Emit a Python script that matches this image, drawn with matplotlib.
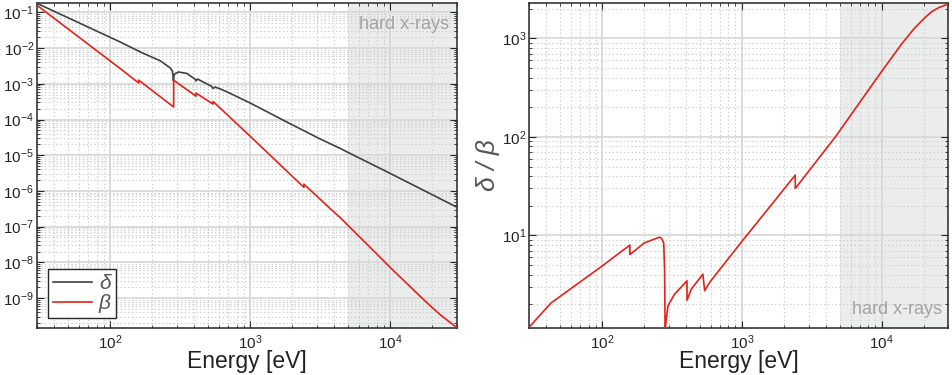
import matplotlib
matplotlib.use('Agg')
import matplotlib.pyplot as plt
from matplotlib.ticker import LogLocator, LogFormatterMathtext, NullFormatter, FixedLocator
import numpy as np

plt.rcParams['font.family'] = ['Liberation Sans', 'DejaVu Sans']
plt.rcParams['mathtext.fontset'] = 'custom'
plt.rcParams['mathtext.rm'] = 'Liberation Sans'
plt.rcParams['mathtext.it'] = 'Liberation Sans:italic'
plt.rcParams['axes.unicode_minus'] = False

# ---------------- data ----------------
energy_delta = [30, 118, 164, 228, 268, 278, 281, 283, 286, 291, 308, 353,
                405, 410, 420, 530, 543, 560, 611, 720, 1000, 1828, 3162,
                4400, 5180, 10000, 30000]
delta = [0.179, 1.48e-2, 7.8e-3, 4.4e-3, 2.8e-3, 2.3e-3, 1.7e-3, 1.22e-3,
         1.7e-3, 1.93e-3, 2.14e-3, 1.95e-3,
         1.34e-3, 1.2e-3, 1.36e-3, 8.5e-4, 7.4e-4, 8.1e-4, 7.2e-4, 5.4e-4,
         2.9e-4, 8.5e-5, 2.85e-5, 1.55e-5, 1.12e-5, 3.1e-6, 3.5e-7]

energy_beta = [30, 118, 160, 160, 284, 284, 410, 410, 543, 543, 1000,
               2420, 2420, 3728, 4400, 8950, 10000, 13150, 17300, 20000,
               23000, 26500, 30000]
beta = [0.158, 2.66e-3, 1.05e-3, 1.26e-3, 2.24e-4, 1.26e-3, 4.5e-4, 5.5e-4,
        2.7e-4, 3.2e-4, 3.4e-5, 1.26e-6, 1.55e-6, 3.2e-7, 1.78e-7, 1.12e-8,
        7.2e-9, 2.57e-9, 9.1e-10, 5.4e-10, 3.3e-10, 2.15e-10, 1.48e-10]

energy_ratio = [30, 43, 100, 158, 158, 200, 257, 266, 276, 280, 284, 285,
                296, 330, 405, 405, 434, 526, 542, 587, 1000, 1535, 2410,
                2410, 4665, 9950, 13960, 17000, 20400, 23000, 25500, 27500,
                30000]
ratio = [1.17, 2.06, 4.9, 8.0, 6.4, 8.4, 9.6, 9.4, 8.4, 4.5, 0.4, 1.25,
         1.94, 2.54, 3.47, 2.2, 2.85, 4.05, 2.75, 3.34, 8.7, 18.5, 41,
         30, 100, 457, 883, 1245, 1622, 1880, 2040, 2130, 2230]

hard_xray_range = [5000, 30000]
energy_limits = [30, 30000]
left_ylim = [1.48e-10, 0.179]
right_ylim = [1.16, 2265]
x_major = [1e2, 1e3, 1e4]
left_y_major = [1e-9, 1e-8, 1e-7, 1e-6, 1e-5, 1e-4, 1e-3, 1e-2, 1e-1]
right_y_major = [1e1, 1e2, 1e3]

# ---------------- styling ----------------
C_DELTA = '#404040'
C_BETA = '#e2231a'
SHADE = '#ebecec'
MAJ_GRID = '#d9d9d9'
MIN_GRID = '#cccccc'
SPINE = '#262626'

fig = plt.figure(figsize=(9.53, 3.75), dpi=100)
ax1 = fig.add_axes([0.0388, 0.1261, 0.4407, 0.865])
ax2 = fig.add_axes([0.5551, 0.1261, 0.4400, 0.865])


def style(ax, ymajor):
    ax.set_xscale('log')
    ax.set_yscale('log')
    ax.set_axisbelow(True)
    ax.xaxis.set_major_locator(FixedLocator(x_major))
    ax.yaxis.set_major_locator(FixedLocator(ymajor))
    for axis in (ax.xaxis, ax.yaxis):
        axis.set_minor_locator(LogLocator(base=10, subs=np.arange(2, 10), numticks=30))
        axis.set_major_formatter(LogFormatterMathtext())
        axis.set_minor_formatter(NullFormatter())
    ax.grid(True, which='major', color=MAJ_GRID, linewidth=1.3, linestyle='-')
    ax.grid(True, which='minor', color=MIN_GRID, linewidth=0.8, linestyle=(0, (1.2, 2.2)))
    ax.tick_params(which='both', direction='in', top=True, right=True,
                   colors=SPINE, labelcolor='#222222')
    ax.tick_params(which='major', length=5, width=0.8, labelsize=11)
    ax.tick_params(which='minor', length=2.5, width=0.6)
    ax.tick_params(axis='x', pad=4)
    ax.tick_params(axis='y', pad=2)
    for s in ax.spines.values():
        s.set_color(SPINE)
        s.set_linewidth(1.1)
    ax.axvspan(hard_xray_range[0], hard_xray_range[1], color=SHADE, zorder=0, lw=0)
    ax.set_xlim(energy_limits)
    ax.set_xlabel('Energy [eV]', fontsize=16.5, labelpad=-1, color='#222222')


style(ax1, left_y_major)
ax1.plot(energy_delta, delta, color=C_DELTA, lw=1.2, label='δ', zorder=3)
ax1.plot(energy_beta, beta, color=C_BETA, lw=1.2, label='β', zorder=3)
ax1.set_ylim(left_ylim)
ax1.text(0.98, 0.962, 'hard x-rays', transform=ax1.transAxes, ha='right', va='top',
         fontsize=13, color='#a3a3a3')
leg = ax1.legend(loc='lower left', bbox_to_anchor=(0.026, 0.029), borderaxespad=0,
                 fancybox=False, edgecolor=SPINE, framealpha=1,
                 handlelength=1.85, handletextpad=0.35, borderpad=0.25,
                 labelspacing=0.05, prop={'style': 'italic', 'size': 15})
leg.get_frame().set_linewidth(1.0)
for t in leg.get_texts():
    t.set_color('#555555')

style(ax2, right_y_major)
ax2.plot(energy_ratio, ratio, color=C_BETA, lw=1.2, zorder=3)
ax2.set_ylim(right_ylim)
ax2.set_ylabel('δ / β', fontsize=19, style='italic', labelpad=1, color='#555555')
ax2.text(0.985, 0.03, 'hard x-rays', transform=ax2.transAxes, ha='right', va='bottom',
         fontsize=13, color='#a3a3a3')

fig.savefig('out.png', dpi=100)
